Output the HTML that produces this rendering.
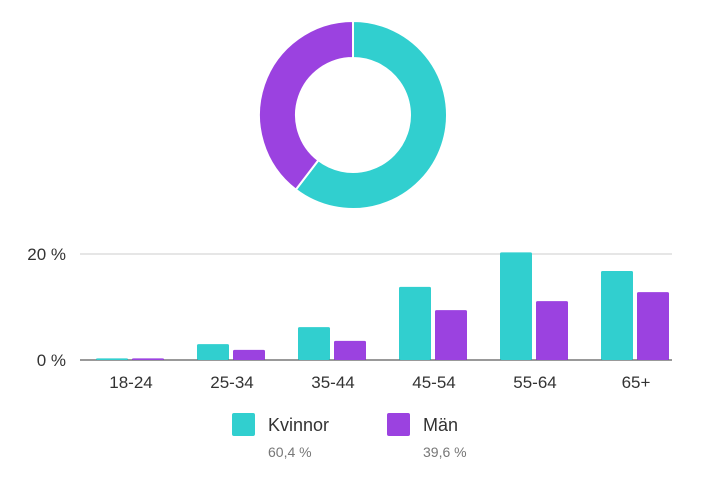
<!DOCTYPE html>
<html><head><meta charset="utf-8"><style>
body{margin:0;background:#fff;width:714px;height:481px;overflow:hidden;font-family:"Liberation Sans",sans-serif}
svg{display:block}
</style></head><body>
<svg id="c" width="714" height="481"></svg>
<script>
const categories=["18-24","25-34","35-44","45-54","55-64","65+"];
const womenValues=[0.3,3.0,6.2,13.8,20.3,16.8];
const menValues=[0.3,1.9,3.6,9.4,11.1,12.8];
const shareLabels=["Kvinnor","Män"];
const shareValues=[60.4,39.6];
const shareTexts=["60,4 %","39,6 %"];
const yTicks=[0,20];
const yTickLabels=["0 %","20 %"];
const colors=["#31cfcf","#9b42e0"];
const NS="http://www.w3.org/2000/svg";
const svg=document.getElementById('c');
function el(t,a,p){const e=document.createElementNS(NS,t);for(const k in a)e.setAttribute(k,a[k]);(p||svg).appendChild(e);return e;}
// donut
const cx=353,cy=115,R=94,r=57;
const total=shareValues.reduce((a,b)=>a+b,0);
let ang=0;
shareValues.forEach((v,i)=>{
  const a0=ang,a1=ang+v/total*2*Math.PI;ang=a1;
  const p=(a,rad)=>[cx+rad*Math.sin(a),cy-rad*Math.cos(a)];
  const [x0,y0]=p(a0,R),[x1,y1]=p(a1,R),[x2,y2]=p(a1,r),[x3,y3]=p(a0,r);
  const lg=(a1-a0)>Math.PI?1:0;
  const s=el('path',{d:`M${x0},${y0}A${R},${R} 0 ${lg} 1 ${x1},${y1}L${x2},${y2}A${r},${r} 0 ${lg} 0 ${x3},${y3}Z`,fill:colors[i],stroke:'#fff','stroke-width':2});
  
  
});
// bar axes
const x0=80.5,band=101,yBase=360,yPer=(360-254)/20;
const yScale=v=>yBase-v*yPer;
yTicks.forEach((t,i)=>{
  const g=el('line',{x1:80,x2:672,y1:yScale(t),y2:yScale(t),stroke:i==0?'#333':'#ccc','stroke-width':1});
  
  
  const tx=el('text',{x:66,y:yScale(t)+6,'text-anchor':'end','font-size':17,fill:'#333'});
  tx.textContent=yTickLabels[i];
  
  
});
const bw=32;
categories.forEach((c,i)=>{
  const cxb=x0+band*i+band/2;
  [womenValues[i],menValues[i]].forEach((v,j)=>{
    const x=j==0?cxb-35:cxb+1;
    const h=v*yPer;
    const b=el('rect',{x:x,y:yBase-h,width:bw,height:h,fill:colors[j],rx:1.5});
    
    
  });
  const t=el('text',{x:cxb,y:388,'text-anchor':'middle','font-size':17,fill:'#333'});
  t.textContent=c;
  
  
});
// legend
const lx=[232,387];
shareLabels.forEach((l,i)=>{
  const g=el('g',{});
  
  
  el('rect',{x:lx[i],y:413,width:23,height:23,rx:2,fill:colors[i]},g);
  const t=el('text',{x:lx[i]+36,y:431,'font-size':18,fill:'#333'},g);t.textContent=l;
  const s=el('text',{x:lx[i]+36,y:457,'font-size':14,fill:'#777'},g);s.textContent=shareTexts[i];
});
</script>
</body></html>
